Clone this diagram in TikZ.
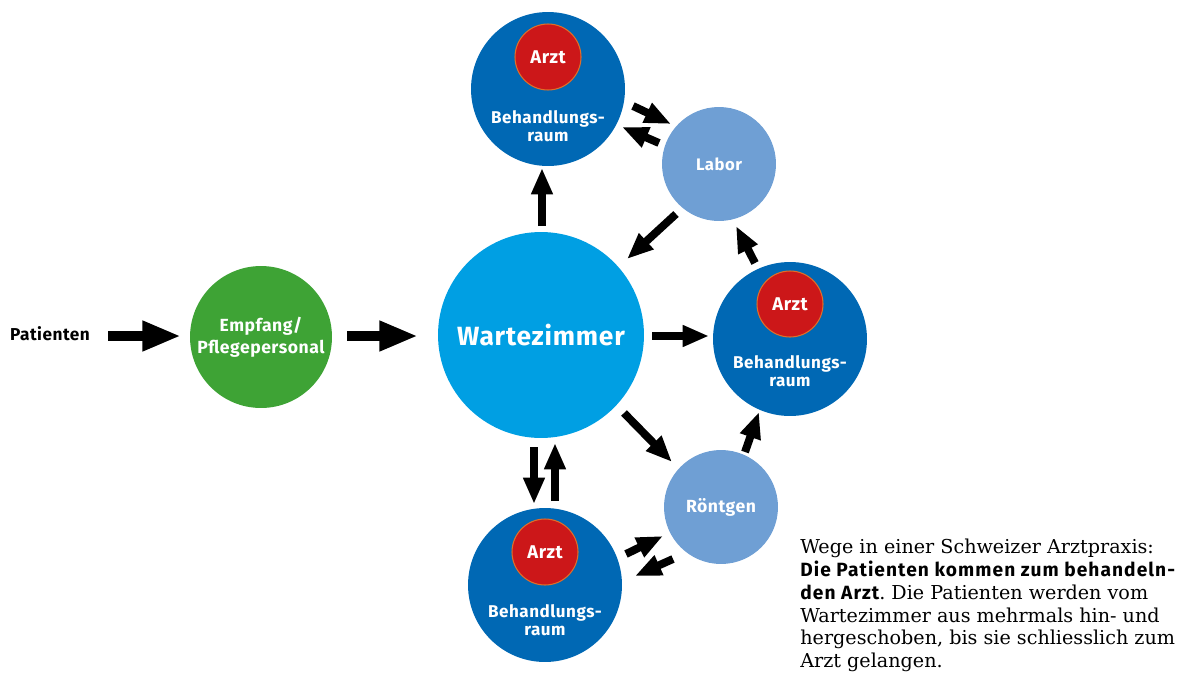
\documentclass[tikz,border=0pt]{standalone}
\usepackage{fontspec}
\setmainfont{DejaVu Serif}
\newfontfamily\fira{Fira Sans}[LetterSpace=3]
\newfontfamily\firacap{Fira Sans}[LetterSpace=5.5]
\usetikzlibrary{arrows.meta}
\definecolor{grn}{RGB}{62,163,53}
\definecolor{wblue}{RGB}{0,159,227}
\definecolor{dblue}{RGB}{0,104,180}
\definecolor{lblue}{RGB}{111,159,212}
\definecolor{arztred}{RGB}{204,23,25}
\definecolor{arztline}{RGB}{224,110,40}
\begin{document}
\frenchspacing
\begin{tikzpicture}[x=0.02cm,y=-0.02cm,
  lab/.style={font=\fira\bfseries\fontsize{#1}{10.5}\selectfont, text=white, align=center},
  lab/.default=9.7,
  disk/.style={circle, inner sep=0pt, minimum size=#1},
  arr/.style={line width=4.5pt, -{Triangle[length=15pt,width=11.5pt]}},
  bigarr/.style={line width=5.7pt, -{Triangle[length=22pt,width=16pt]}},
]
\useasboundingbox (0,0) rectangle (1180,673);
% nodes
\node[font=\fira\bfseries\fontsize{9.8}{10.5}\selectfont] (pat) at (50,334) {Patienten};
\node[disk=2.84cm, fill=grn, lab=10, font=\fira\bfseries\fontsize{10}{12.3}\selectfont] (empf) at (261,337) {Empfang/\\Pflegepersonal};
\node[disk=4.12cm, fill=wblue, lab, font=\fira\bfseries\fontsize{15}{18}\selectfont] (warte) at (541,335) {Wartezimmer};
\node[disk=3.08cm, fill=dblue] (br1) at (548,89) {};
\node[disk=1.32cm, fill=arztred, draw=arztline, line width=0.6pt, lab=10.5] (arzt1) at (548,57) {Arzt};
\node[lab] (t1) at (548,126) {Behandlungs-\\raum};
\node[disk=3.08cm, fill=dblue] (br2) at (790,339) {};
\node[disk=1.32cm, fill=arztred, draw=arztline, line width=0.6pt, lab=10.5] (arzt2) at (790,304) {Arzt};
\node[lab] (t2) at (790,371) {Behandlungs-\\raum};
\node[disk=3.08cm, fill=dblue] (br3) at (545,585) {};
\node[disk=1.32cm, fill=arztred, draw=arztline, line width=0.6pt, lab=10.5] (arzt3) at (545,552) {Arzt};
\node[lab] (t3) at (545,620) {Behandlungs-\\raum};
\node[disk=2.28cm, fill=lblue, lab=9.5] (labor) at (719,164) {Labor};
\node[disk=2.28cm, fill=lblue, lab=10] (roent) at (721,507) {Röntgen};
% arrow end points
\coordinate (s1) at (108,336); \coordinate (e1) at (181,336);
\coordinate (s2) at (347,336); \coordinate (e2) at (418,336);
\coordinate (s3) at (542,226); \coordinate (e3) at (542,168);
\coordinate (s4) at (633,106); \coordinate (e4) at (671,124);
\coordinate (s5) at (659,143); \coordinate (e5) at (622,127);
\coordinate (s6) at (676,214); \coordinate (e6) at (627,259);
\coordinate (s7) at (755,263); \coordinate (e7) at (736,226);
\coordinate (s8) at (652,336); \coordinate (e8) at (709,336);
\coordinate (s9) at (624,413); \coordinate (e9) at (672,462);
\coordinate (s10) at (745,452); \coordinate (e10) at (759,412);
\coordinate (s11) at (534,447); \coordinate (e11) at (534,504);
\coordinate (s12) at (555,501); \coordinate (e12) at (555,443);
\coordinate (s13) at (626,554); \coordinate (e13) at (663,536);
\coordinate (s14) at (673,559); \coordinate (e14) at (635,576);
% arrows
\draw[bigarr] (s1) -- (e1);
\draw[bigarr] (s2) -- (e2);
\foreach \i in {3,...,14} {\draw[arr] (s\i) -- (e\i);}
% caption
\node[anchor=north west, align=left, inner sep=0pt,
      font=\fontsize{10.9}{12.95}\selectfont] (cap) at (800,539)
 {Wege in einer Schweizer Arztpraxis:\\
  {\firacap\bfseries Die Patienten kommen zum behandeln-}\\
  {\firacap\bfseries den Arzt}. Die Patienten werden vom\\
  Wartezimmer aus mehrmals hin- und\\
  hergeschoben, bis sie schliesslich zum\\
  Arzt gelangen.};
\end{tikzpicture}
\end{document}
